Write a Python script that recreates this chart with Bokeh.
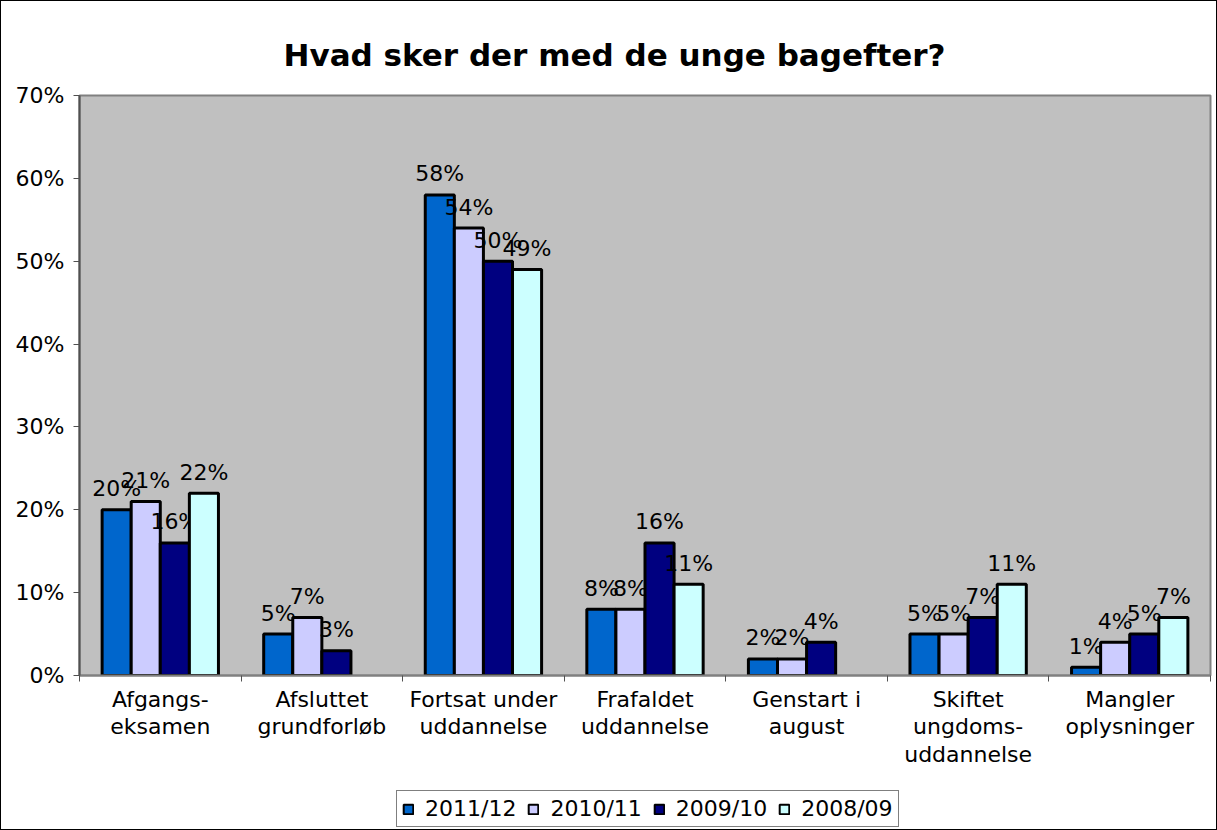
from bokeh.plotting import figure
from bokeh.layouts import column
from bokeh.models import (ColumnDataSource, Range1d, FixedTicker, Legend, LegendItem,
                          PrintfTickFormatter)
from bokeh.embed import file_html
from bokeh.resources import INLINE
from bokeh.core.properties import value

categories = ["Afgangs-\neksamen", "Afsluttet\ngrundforløb", "Fortsat under\nuddannelse",
              "Frafaldet\nuddannelse", "Genstart i\naugust", "Skiftet\nungdoms-\nuddannelse",
              "Mangler\noplysninger"]
series = ["2011/12", "2010/11", "2009/10", "2008/09"]
v_2011_12 = [20, 5, 58, 8, 2, 5, 1]
v_2010_11 = [21, 7, 54, 8, 2, 5, 4]
v_2009_10 = [16, 3, 50, 16, 4, 7, 5]
v_2008_09 = [22, None, 49, 11, None, 11, 7]
values = [v_2011_12, v_2010_11, v_2009_10, v_2008_09]
colors = ["#0066CC", "#CCCCFF", "#000080", "#CCFFFF"]
y_ticks = [0, 10, 20, 30, 40, 50, 60, 70]

FONT = "DejaVu Sans"

p = figure(width=1215, height=775, x_range=Range1d(0, len(categories)),
           y_range=Range1d(0, 70), output_backend="svg", toolbar_location=None,
           min_border_left=78, min_border_right=6, min_border_top=94, min_border_bottom=101)

p.title.text = "Hvad sker der med de unge bagefter?"
p.title.text_font = FONT
p.title.text_font_size = "31px"
p.title.text_font_style = "bold"
p.title.text_color = "black"
p.title.align = "left"
p.title.offset = 204
p.title.standoff = 46

p.background_fill_color = "#C0C0C0"
p.border_fill_color = "white"
p.outline_line_color = "#808080"
p.outline_line_width = 2
p.xgrid.grid_line_color = None
p.ygrid.grid_line_color = None

# y axis
p.yaxis.ticker = FixedTicker(ticks=y_ticks)
p.yaxis.formatter = PrintfTickFormatter(format="%d%%")
p.yaxis.major_tick_out = 6
p.yaxis.major_tick_in = 0
p.yaxis.minor_tick_out = 0
p.yaxis.minor_tick_in = 0
p.yaxis.axis_line_color = "#505050"
p.yaxis.axis_line_width = 2
p.yaxis.major_tick_line_color = "#505050"
p.yaxis.major_label_text_font = FONT
p.yaxis.major_label_text_font_size = "22px"
p.yaxis.major_label_text_color = "black"
p.yaxis.major_label_standoff = 9

# x axis
centers = [i + 0.5 for i in range(len(categories))]
bounds = list(range(len(categories) + 1))
p.xaxis.ticker = FixedTicker(ticks=centers, minor_ticks=bounds)
p.xaxis.major_label_overrides = {c: lab for c, lab in zip(centers, categories)}
p.xaxis.major_tick_out = 0
p.xaxis.major_tick_in = 0
p.xaxis.minor_tick_out = 6
p.xaxis.minor_tick_in = 0
p.xaxis.minor_tick_line_color = "#505050"
p.xaxis.axis_line_color = "#808080"
p.xaxis.axis_line_width = 2
p.xaxis.major_label_text_font = FONT
p.xaxis.major_label_text_font_size = "22px"
p.xaxis.major_label_text_color = "black"
p.xaxis.major_label_text_line_height = 1.1
p.xaxis.major_label_standoff = 5

bw = 0.18
for k, (name, vals, col) in enumerate(zip(series, values, colors)):
    off = (k - 1.5) * bw
    xs = [c + off for c, v in zip(centers, vals) if v is not None]
    ys = [v for v in vals if v is not None]
    src = ColumnDataSource(dict(x=xs, top=ys, lab=[f"{v}%" for v in ys]))
    p.vbar(x="x", top="top", width=bw, bottom=0, source=src, fill_color=col,
           line_color="black", line_width=3)
    p.text(x="x", y="top", text="lab", source=src, text_align="center",
           text_baseline="alphabetic", y_offset=-21, text_font=value(FONT),
           text_font_size="22px", text_color="black")

# legend strip below the chart (its renderers are hidden; only the legend shows)
lf = figure(width=1215, height=53, x_range=Range1d(0, len(categories)), y_range=Range1d(0, 70),
            output_backend="svg", toolbar_location=None, min_border=0,
            x_axis_location=None, y_axis_location=None)
lf.outline_line_color = None
lf.xgrid.grid_line_color = None
lf.ygrid.grid_line_color = None
lf.background_fill_color = "white"
items = []
for name, vals, col in zip(series, values, colors):
    xs = [c for c, v in zip(centers, vals) if v is not None]
    ys = [v for v in vals if v is not None]
    r = lf.vbar(x=xs, top=ys, bottom=0, width=bw, fill_color=col, line_color="black",
                line_width=2, visible=False)
    items.append(LegendItem(label=name, renderers=[r]))
legend = Legend(items=items, orientation="horizontal", location=(317, 2),
                label_text_font=FONT, label_text_font_size="22px", label_text_color="black",
                glyph_width=12, glyph_height=12, label_standoff=11, spacing=11,
                padding=5, margin=0, border_line_color="black", border_line_width=1,
                background_fill_color="white", background_fill_alpha=1,
                inactive_fill_alpha=0)
lf.add_layout(legend, "center")

layout = column(p, lf, spacing=0)
layout.styles = {"border": "1px solid black"}

open("out.html", "w").write(file_html(layout, INLINE))
